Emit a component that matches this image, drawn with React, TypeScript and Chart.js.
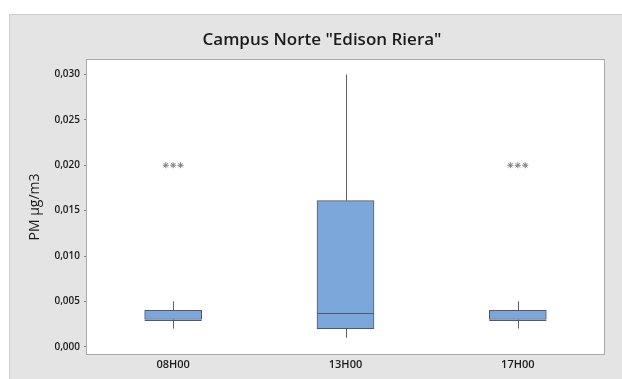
import React, { useEffect, useRef } from "react";
import { Chart, registerables } from "chart.js";

Chart.register(...registerables);

// PM concentration (µg/m3) box-plot summaries per sampling hour
const categories = ["08H00", "13H00", "17H00"];
const whiskerLow = [0.002, 0.001, 0.002];
const q1 = [0.003, 0.002, 0.003];
const median = [0.003, 0.0037, 0.003];
const q3 = [0.004, 0.0161, 0.004];
const whiskerHigh = [0.005, 0.03, 0.005];
const outliers = [[0.02, 0.02, 0.02], [], [0.02, 0.02, 0.02]];

const yTicks = [0, 0.005, 0.01, 0.015, 0.02, 0.025, 0.03];
const titleText = 'Campus Norte "Edison Riera"';
const yTitle = "PM µg/m3";

const BOX_FILL = "#7ba7da";
const BOX_EDGE = "#4f5a6a";
const PANEL = "#e4e4e4";
const FONT = "'Open Sans', 'Noto Sans', sans-serif";

const fmt = (v: number) => v.toFixed(3).replace(".", ",");

const boxDecor = {
  id: "boxDecor",
  beforeDraw(chart: any) {
    const { ctx, width, height, chartArea } = chart;
    ctx.save();
    ctx.fillStyle = "#ffffff";
    ctx.fillRect(0, 0, width, height);
    ctx.fillStyle = PANEL;
    ctx.fillRect(9, 14, width - 9, height - 14);
    ctx.strokeStyle = "#cdcdcd";
    ctx.lineWidth = 1;
    ctx.beginPath();
    ctx.moveTo(9.5, height);
    ctx.lineTo(9.5, 14.5);
    ctx.lineTo(width, 14.5);
    ctx.stroke();
    ctx.fillStyle = "#ffffff";
    ctx.fillRect(chartArea.left, chartArea.top, chartArea.right - chartArea.left, chartArea.bottom - chartArea.top);
    // title
    ctx.fillStyle = "#1a1a1a";
    ctx.font = `600 17px ${FONT}`;
    ctx.textAlign = "center";
    ctx.textBaseline = "middle";
    ctx.fillText(titleText, 322, 40);
    ctx.restore();
  },
  beforeDatasetsDraw(chart: any) {
    const { ctx, scales } = chart;
    const x = scales.x;
    const y = scales.y;
    ctx.save();
    ctx.strokeStyle = "#5a5f68";
    ctx.lineWidth = 1;
    categories.forEach((_, i) => {
      const px = Math.round(x.getPixelForValue(i)) + 0.5;
      ctx.beginPath();
      ctx.moveTo(px, y.getPixelForValue(whiskerLow[i]));
      ctx.lineTo(px, y.getPixelForValue(q1[i]));
      ctx.moveTo(px, y.getPixelForValue(q3[i]));
      ctx.lineTo(px, y.getPixelForValue(whiskerHigh[i]));
      ctx.stroke();
    });
    ctx.restore();
  },
  afterDatasetsDraw(chart: any) {
    const { ctx, scales, chartArea } = chart;
    const x = scales.x;
    const y = scales.y;
    const meta = chart.getDatasetMeta(0);
    ctx.save();
    ctx.strokeStyle = BOX_EDGE;
    ctx.lineWidth = 1;
    categories.forEach((_, i) => {
      const bar = meta.data[i];
      const half = bar.width / 2;
      const px = x.getPixelForValue(i);
      const py = Math.round(y.getPixelForValue(median[i])) + 0.5;
      ctx.beginPath();
      ctx.moveTo(px - half, py);
      ctx.lineTo(px + half, py);
      ctx.stroke();
    });
    // plot frame
    ctx.strokeStyle = "#a9a9a9";
    ctx.strokeRect(chartArea.left - 0.5, chartArea.top - 0.5, chartArea.right - chartArea.left + 1, chartArea.bottom - chartArea.top + 1);
    ctx.restore();
  },
};

export default function App() {
  const ref = useRef<HTMLCanvasElement | null>(null);

  useEffect(() => {
    document.body.style.margin = "0";
    if (!ref.current) return;

    const outlierPoints: { x: number; y: number }[] = [];
    outliers.forEach((vals, i) => {
      vals.forEach((v, k) => {
        // side-by-side placement for tied values
        outlierPoints.push({ x: i + (k - (vals.length - 1) / 2) * 0.043, y: v });
      });
    });

    const chart = new Chart(ref.current, {
      type: "bar",
      data: {
        datasets: [
          {
            type: "bar",
            data: categories.map((_, i) => ({ x: i, y: [q1[i], q3[i]] })) as any,
            backgroundColor: BOX_FILL,
            borderColor: BOX_EDGE,
            borderWidth: 1,
            borderSkipped: false,
            barThickness: 57,
          },
          {
            type: "scatter",
            data: outlierPoints as any,
            pointStyle: "star",
            radius: 3,
            borderColor: "#808080",
            backgroundColor: "#808080",
            borderWidth: 1,
          } as any,
        ],
      },
      options: {
        responsive: false,
        animation: false,
        devicePixelRatio: 1,
        layout: { padding: { top: 60, right: 18, left: 0, bottom: 0 } },
        plugins: {
          legend: { display: false },
          tooltip: { enabled: false },
        },
        scales: {
          x: {
            type: "linear",
            min: -0.5,
            max: 2.5,
            offset: false,
            grid: { display: false, drawOnChartArea: false, tickLength: 3, color: "#a9a9a9" } as any,
            border: { display: false },
            afterBuildTicks: (scale: any) => {
              scale.ticks = categories.map((_, i) => ({ value: i }));
            },
            afterFit: (scale: any) => {
              scale.height = 25;
            },
            ticks: {
              autoSkip: false,
              maxRotation: 0,
              padding: 1,
              color: "#1a1a1a",
              font: { family: FONT, size: 11, weight: "600" },
              callback: (v: any) => categories[Math.round(Number(v))] ?? "",
            },
          },
          y: {
            type: "linear",
            min: -0.0008,
            max: 0.0316,
            grid: { display: true, drawOnChartArea: false, tickLength: 3, color: "#8a8a8a" } as any,
            border: { display: false },
            afterBuildTicks: (scale: any) => {
              scale.ticks = yTicks.map((v) => ({ value: v }));
            },
            afterFit: (scale: any) => {
              scale.width = 87;
            },
            title: {
              display: true,
              text: yTitle,
              color: "#1a1a1a",
              font: { family: FONT, size: 14, weight: "normal" },
              padding: { top: 27, bottom: 0 },
            },
            ticks: {
              padding: 4,
              color: "#1a1a1a",
              font: { family: FONT, size: 10, weight: "600" },
              callback: (v: any) => fmt(Number(v)),
            },
          },
        },
      },
      plugins: [boxDecor],
    });

    return () => chart.destroy();
  }, []);

  return (
    <div style={{ position: "absolute", left: 0, top: 0, width: 622, height: 379 }}>
      <canvas ref={ref} width={622} height={379} style={{ width: 622, height: 379, display: "block" }} />
    </div>
  );
}
